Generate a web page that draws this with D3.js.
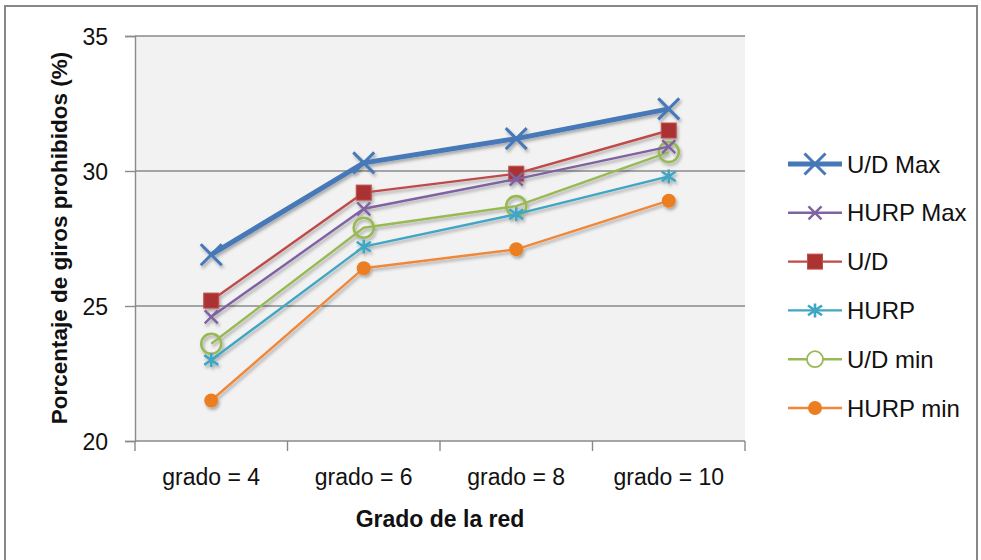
<!DOCTYPE html>
<html>
<head>
<meta charset="utf-8">
<script src="https://cdn.jsdelivr.net/npm/d3@7"></script>
<style>
  html, body { margin: 0; padding: 0; background: #fff; }
  svg { display: block; font-family: "Liberation Sans", Arial, sans-serif; }
</style>
</head>
<body>
<svg id="chart" width="981" height="560"></svg>
<script>
// ---- data ----
const categories = ["grado = 4", "grado = 6", "grado = 8", "grado = 10"];
const seriesNames = ["U/D Max", "HURP Max", "U/D", "HURP", "U/D min", "HURP min"];
const udMax   = [26.9, 30.3, 31.2, 32.3];
const hurpMax = [24.6, 28.6, 29.7, 30.9];
const ud      = [25.2, 29.2, 29.9, 31.5];
const hurp    = [23.0, 27.2, 28.4, 29.8];
const udMin   = [23.6, 27.9, 28.7, 30.7];
const hurpMin = [21.5, 26.4, 27.1, 28.9];
const yTicks  = [20, 25, 30, 35];
const yTitle  = "Porcentaje de giros prohibidos (%)";
const xTitle  = "Grado de la red";

(function () {
const seriesValues = [udMax, hurpMax, ud, hurp, udMin, hurpMin];
const styles = [
  { color: "#4678b8", width: 5,   marker: "x",    size: 10.5, mstroke: 3,   fill: "none" },
  { color: "#7f62a1", width: 2.4, marker: "x",    size: 6.5,  mstroke: 2.4, fill: "none" },
  { color: "#be4b48", width: 2.4, marker: "sq",   size: 7.5,  mstroke: 0,   fill: "#ab3330" },
  { color: "#3fa6c3", width: 2.4, marker: "star", size: 7,    mstroke: 2.6, fill: "none" },
  { color: "#98b954", width: 2.4, marker: "ring", size: 10,   mstroke: 2.6, fill: "none" },
  { color: "#f0883a", width: 2.4, marker: "dot",  size: 7,    mstroke: 0,   fill: "#ec7e22" }
];

const svg = d3.select("#chart");

const defs = svg.append("defs");
const f = defs.append("filter").attr("id", "sh").attr("x", "-50%").attr("y", "-50%").attr("width", "200%").attr("height", "200%");
f.append("feDropShadow").attr("dx", 1.5).attr("dy", 2.5).attr("stdDeviation", 1.6)
  .attr("flood-color", "#000").attr("flood-opacity", 0.3);

svg.append("rect").attr("x", 5).attr("y", 6).attr("width", 972).attr("height", 600)
  .attr("fill", "#fff").attr("stroke", "#878787").attr("stroke-width", 2);

const pL = 135, pR = 745, pT = 36, pB = 441;
const x = d3.scaleBand().domain(categories).range([pL, pR]);
const y = d3.scaleLinear().domain([20, 35]).range([pB, pT]);

svg.append("rect").attr("x", pL).attr("y", pT).attr("width", pR - pL).attr("height", pB - pT)
  .attr("fill", "#f2f2f2");

svg.append("g").selectAll("line").data(yTicks.filter(t => t > 20)).join("line")
  .attr("x1", pL).attr("x2", pR).attr("y1", d => y(d)).attr("y2", d => y(d))
  .attr("stroke", "#8a8a8a").attr("stroke-width", 1.4);

const yAx = svg.append("g").attr("transform", `translate(${pL},0)`)
  .call(d3.axisLeft(y).tickValues(yTicks).tickSize(10).tickPadding(17).tickFormat(d3.format("d")));
yAx.select(".domain").attr("stroke", "#8a8a8a").attr("stroke-width", 1.4);
yAx.selectAll(".tick line").attr("stroke", "#8a8a8a").attr("stroke-width", 1.4);
yAx.selectAll(".tick text").attr("font-size", 23).attr("fill", "#111").attr("dy", "0.36em")
  .style("font-family", "Liberation Sans, Arial, sans-serif");

const bounds = categories.map(c => x(c)).concat([x(categories[categories.length - 1]) + x.bandwidth()]);
svg.append("line").attr("x1", pL).attr("x2", pR).attr("y1", pB).attr("y2", pB)
  .attr("stroke", "#8a8a8a").attr("stroke-width", 1.4);
svg.append("g").selectAll("line").data(bounds).join("line")
  .attr("x1", d => d).attr("x2", d => d).attr("y1", pB).attr("y2", pB + 10)
  .attr("stroke", "#8a8a8a").attr("stroke-width", 1.4);
const xAx = svg.append("g").attr("transform", `translate(0,${pB})`)
  .call(d3.axisBottom(x).tickSize(0).tickPadding(0));
xAx.select(".domain").remove();
xAx.selectAll(".tick text").attr("font-size", 23).attr("fill", "#111").attr("y", 44).attr("dy", 0)
  .style("font-family", "Liberation Sans, Arial, sans-serif");

svg.append("text").attr("transform", `translate(67,238) rotate(-90)`)
  .attr("text-anchor", "middle").attr("font-size", 22.5).attr("font-weight", "bold").attr("fill", "#111")
  .text(yTitle);
svg.append("text").attr("x", (pL + pR) / 2).attr("y", 527)
  .attr("text-anchor", "middle").attr("font-size", 23).attr("font-weight", "bold").attr("fill", "#111")
  .text(xTitle);

function drawMarker(g, st, cx, cy, legend) {
  const s = st.size;
  if (st.marker === "x") {
    g.append("path").attr("d", `M${cx - s},${cy - s}L${cx + s},${cy + s}M${cx - s},${cy + s}L${cx + s},${cy - s}`)
      .attr("stroke", st.color).attr("stroke-width", st.mstroke).attr("fill", "none");
  } else if (st.marker === "star") {
    g.append("path").attr("d", `M${cx - s},${cy - s * 0.7}L${cx + s},${cy + s * 0.7}M${cx - s},${cy + s * 0.7}L${cx + s},${cy - s * 0.7}M${cx},${cy - s}L${cx},${cy + s}`)
      .attr("stroke", st.color).attr("stroke-width", st.mstroke).attr("fill", "none");
  } else if (st.marker === "sq") {
    g.append("rect").attr("x", cx - s).attr("y", cy - s).attr("width", 2 * s).attr("height", 2 * s)
      .attr("fill", st.fill).attr("stroke", "#c0504d").attr("stroke-width", 1);
  } else if (st.marker === "ring") {
    g.append("circle").attr("cx", cx).attr("cy", cy).attr("r", legend ? s * 0.8 : s)
      .attr("fill", legend ? "#fff" : "none").attr("stroke", st.color).attr("stroke-width", legend ? 1.8 : st.mstroke);
  } else if (st.marker === "dot") {
    g.append("circle").attr("cx", cx).attr("cy", cy).attr("r", s).attr("fill", st.fill);
  }
}

const line = d3.line().x((d, i) => x(categories[i]) + x.bandwidth() / 2).y(d => y(d));

const plot = svg.append("g").attr("filter", "url(#sh)");
for (let k = seriesValues.length - 1; k >= 0; k--) {
  const st = styles[k];
  const g = plot.append("g");
  g.append("path").datum(seriesValues[k]).attr("d", line)
    .attr("fill", "none").attr("stroke", st.color).attr("stroke-width", st.width).attr("stroke-linejoin", "round");
  seriesValues[k].forEach((v, i) => drawMarker(g, st, x(categories[i]) + x.bandwidth() / 2, y(v), false));
}

const legendY0 = 164, legendStep = 48.8;
const lg = svg.append("g");
seriesNames.forEach((name, k) => {
  const st = styles[k];
  const cy = legendY0 + k * legendStep;
  const g = lg.append("g");
  g.append("line").attr("x1", 788).attr("x2", 842).attr("y1", cy).attr("y2", cy)
    .attr("stroke", st.color).attr("stroke-width", st.width);
  drawMarker(g, st, 815, cy, true);
  g.append("text").attr("x", 847).attr("y", cy).attr("dy", "0.36em")
    .attr("font-size", 24).attr("fill", "#111").text(name);
});
})();
</script>
</body>
</html>
